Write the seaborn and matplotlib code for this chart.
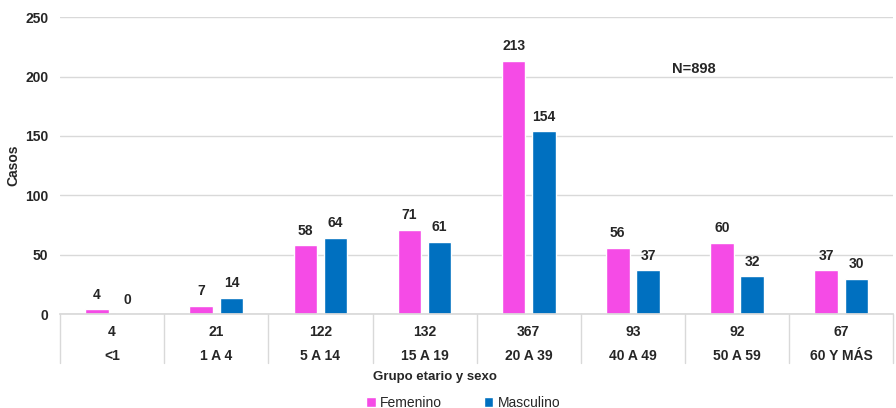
import matplotlib
matplotlib.use("Agg")
import matplotlib.pyplot as plt
import matplotlib.transforms as mtransforms
from matplotlib.patches import Patch
import seaborn as sns
import pandas as pd

# Age groups, cases by sex and totals per group
grupos = ["<1", "1 A 4", "5 A 14", "15 A 19", "20 A 39", "40 A 49", "50 A 59", "60 Y MÁS"]
femenino = [4, 7, 58, 71, 213, 56, 60, 37]
masculino = [0, 14, 64, 61, 154, 37, 32, 30]
totales = [4, 21, 122, 132, 367, 93, 92, 67]
sexos = ["Femenino", "Masculino"]
colores = {"Femenino": "#F54BE6", "Masculino": "#0070C0"}

df = pd.DataFrame({
    "grupo": grupos * 2,
    "sexo": ["Femenino"] * len(grupos) + ["Masculino"] * len(grupos),
    "casos": femenino + masculino,
})

sns.set_theme(style="white")
plt.rcParams["font.family"] = ["Liberation Sans", "DejaVu Sans"]
txt = "#262626"
fs = 10

fig = plt.figure(figsize=(8.96, 4.08), dpi=100)
ax = fig.add_axes([0.067, 0.230, 0.930, 0.728])

sns.barplot(data=df, x="grupo", y="casos", hue="sexo", order=grupos,
            hue_order=sexos, palette=colores, width=0.58, gap=0.22,
            saturation=1, legend=False, ax=ax)

for cont in ax.containers:
    ax.bar_label(cont, padding=5.5, fontsize=fs, fontweight="bold", color=txt)

ax.set_ylim(0, 250)
ax.set_yticks(range(0, 251, 50))
ax.set_xlim(-0.5, len(grupos) - 0.5)
ax.yaxis.grid(True, color="#D9D9D9", linewidth=1)
ax.set_axisbelow(True)
for s in ["top", "right", "left"]:
    ax.spines[s].set_visible(False)
ax.spines["bottom"].set_color("#D9D9D9")
ax.tick_params(axis="y", length=0, pad=8.5, labelsize=fs, labelcolor=txt)
for lab in ax.get_yticklabels():
    lab.set_fontweight("bold")
ax.set_xticks([])
ax.set_xlabel("")
ax.set_ylabel("Casos", fontsize=fs, fontweight="bold", color=txt)
ax.yaxis.set_label_coords(-0.048, 0.5)

# Table below the axis: totals row and age-group row
trans = mtransforms.blended_transform_factory(ax.transData, ax.transAxes)
for i, (g, t) in enumerate(zip(grupos, totales)):
    ax.text(i, -0.06, str(t), transform=trans, ha="center", va="center",
            fontsize=fs, fontweight="bold", color=txt)
    ax.text(i, -0.14, g, transform=trans, ha="center", va="center",
            fontsize=fs, fontweight="bold", color=txt)
for b in range(len(grupos) + 1):
    ax.plot([b - 0.5, b - 0.5], [0, -0.165], transform=trans, color="#D9D9D9",
            linewidth=1, clip_on=False)

fig.text(0.485, 0.076, "Grupo etario y sexo", ha="center", va="center",
         fontsize=9.5, fontweight="bold", color=txt)
fig.text(0.774, 0.83, "N=898", ha="center", va="center", fontsize=10.5,
         fontweight="bold", color=txt)

handles = [Patch(facecolor=colores[s], label=s) for s in sexos]
fig.legend(handles=handles, loc="center", bbox_to_anchor=(0.517, 0.013),
           ncol=2, frameon=False, fontsize=fs, handlelength=0.7,
           handleheight=0.7, handletextpad=0.3, columnspacing=3.0,
           labelcolor=txt)

fig.savefig("out.png", dpi=100)
